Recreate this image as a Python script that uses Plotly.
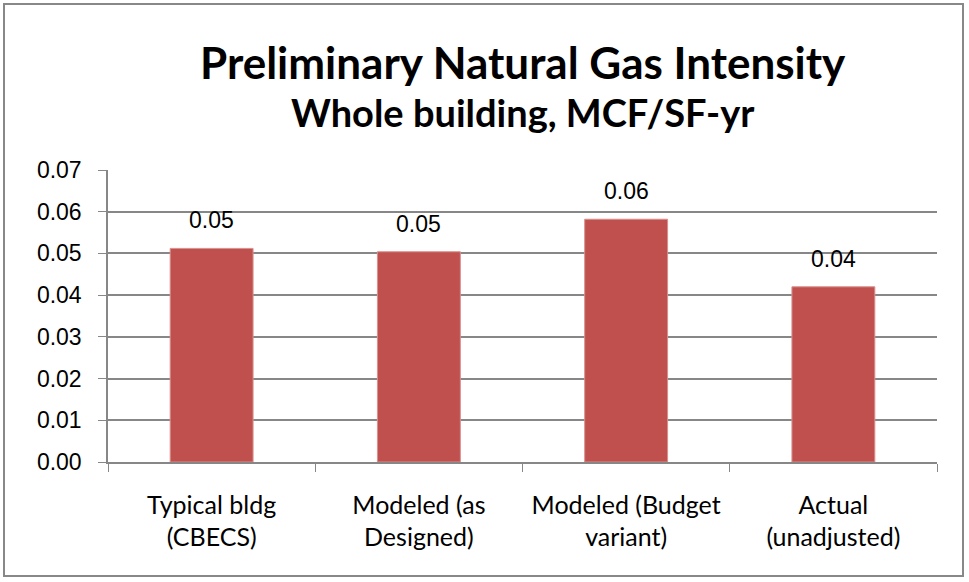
import plotly.graph_objects as go

categories = [
    "Typical bldg<br>(CBECS)",
    "Modeled (as<br>Designed)",
    "Modeled (Budget<br>variant)",
    "Actual<br>(unadjusted)",
]
gas_intensity = [0.0512, 0.0504, 0.0582, 0.0420]
y_ticks = [0.00, 0.01, 0.02, 0.03, 0.04, 0.05, 0.06, 0.07]

W, H = 969, 582
L, R, T, B = 108, 32, 170, 120

fig = go.Figure()

fig.add_trace(go.Bar(
    x=categories,
    y=gas_intensity,
    marker=dict(color="#C0504D", line=dict(color="#D8908E", width=1)),
    width=0.4,
    hoverinfo="skip",
))

for cat, val in zip(categories, gas_intensity):
    fig.add_annotation(
        x=cat, y=val,
        text=f"{val:.2f}",
        showarrow=False,
        yshift=28,
        font=dict(family="Liberation Sans, Arial", size=23, color="#000"),
    )

pw, ph = W - L - R, H - T - B

fig.add_annotation(
    x=0.5, y=(H - 62 - B) / ph,
    xref="paper", yref="paper", yanchor="middle",
    text="<b>Preliminary Natural Gas Intensity</b>",
    showarrow=False,
    font=dict(family="Lato", size=44, color="#000"),
)
fig.add_annotation(
    x=0.5, y=(H - 112 - B) / ph,
    xref="paper", yref="paper", yanchor="middle",
    text="<b>Whole building, MCF/SF-yr</b>",
    showarrow=False,
    font=dict(family="Lato", size=38, color="#000"),
)

# outer chart border
fig.add_shape(
    type="rect", xref="paper", yref="paper",
    x0=(4 - L) / pw, x1=(963 - L) / pw,
    y0=(H - B - 576) / ph, y1=(H - B - 4) / ph,
    line=dict(color="#888888", width=2),
)

fig.update_layout(
    width=W, height=H,
    margin=dict(l=L, r=R, t=T, b=B),
    plot_bgcolor="white",
    paper_bgcolor="white",
    showlegend=False,
    xaxis=dict(
        showline=True, linecolor="#878787", linewidth=1.5,
        ticks="outside", ticklen=8, tickcolor="#878787",
        tickson="boundaries",
        tickfont=dict(family="Lato", size=25, color="#000"),
        ticklabelstandoff=20,
    ),
    yaxis=dict(
        range=[0, 0.07],
        tickvals=y_ticks,
        tickformat=".2f",
        showgrid=True, gridcolor="#878787", gridwidth=1.5,
        showline=True, linecolor="#878787", linewidth=1.5,
        ticks="outside", ticklen=8, tickcolor="#878787",
        tickfont=dict(family="Liberation Sans, Arial", size=23, color="#000"),
        ticklabelstandoff=12,
        zeroline=False,
    ),
)

fig.write_html(
    "out.html",
    config={"displayModeBar": False},
    post_script="document.body.style.margin='0px';",
)
